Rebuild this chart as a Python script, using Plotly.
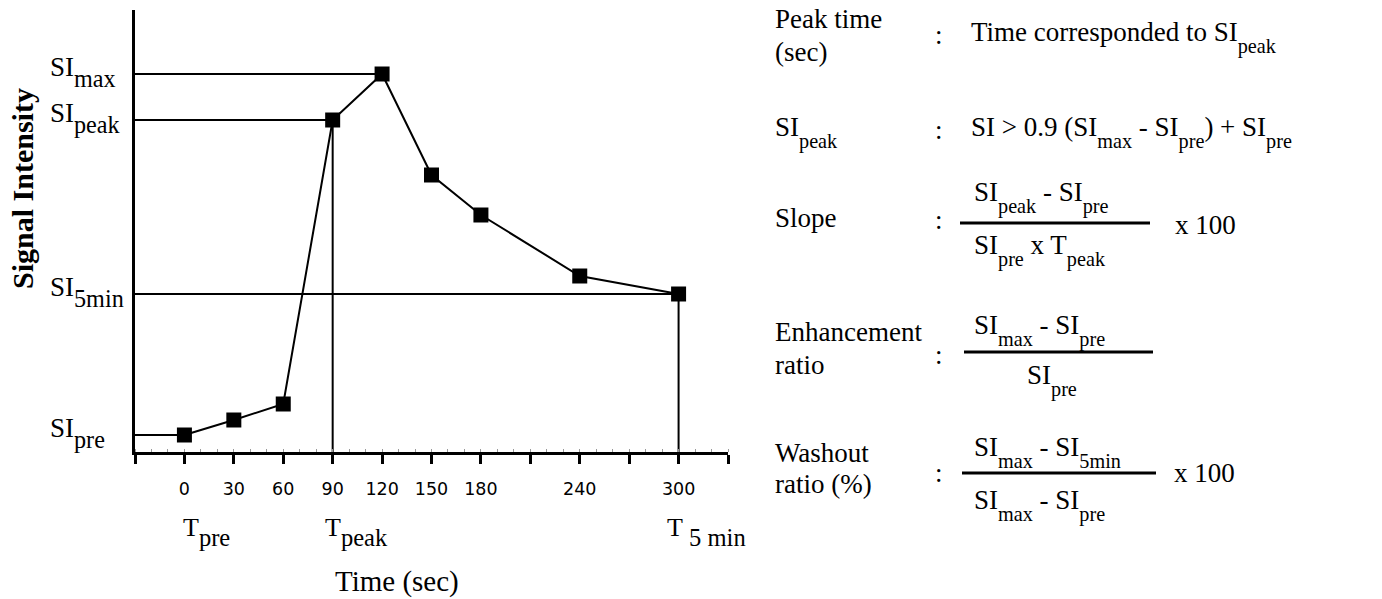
import plotly.graph_objects as go

# Dynamic contrast-enhancement time–signal curve (arbitrary intensity units)
time_sec = [0, 30, 60, 90, 120, 150, 180, 240, 300]
signal = [17, 32, 48, 332, 378, 277, 237, 176, 158]

x_ticks = [-30, 0, 30, 60, 90, 120, 150, 180, 210, 240, 270, 300, 330]
x_tick_labels = ["", "0", "30", "60", "90", "120", "150", "180", "", "240", "", "300", ""]

# Key points of the curve: (label, subscript, time index)
si_marks = [("SI", "max", 4), ("SI", "peak", 3), ("SI", "5min", 8), ("SI", "pre", 0)]
t_marks = [("T", "pre", 0), ("T", "peak", 3), ("T", " 5 min", 8)]

W, H = 1382, 599
L, R, T, B = 135, 728, 10, 452
X0, X1 = -30, 330
Y0, Y1 = 0, 442

SERIF = "Liberation Serif"
SANS = "DejaVu Sans"


def px(x):
    return (x - L) / (R - L)


def py(y):
    return (B - y) / (B - T)


def sub(s, pct=107, drop=6):
    # plotly renders <sub> at 70 % with a small drop; the inner span
    # rescales it and lowers it a little further
    return (f'<sub><span style="font-size:{pct}%;baseline-shift:-{drop}px">'
            f'{s}</span></sub>')


fig = go.Figure()

# Guide lines from the axes to the key points
for _, _, i in si_marks:
    fig.add_trace(go.Scatter(x=[X0, time_sec[i]], y=[signal[i], signal[i]], mode="lines",
                             line=dict(color="black", width=2), hoverinfo="skip"))
for _, _, i in t_marks[1:]:
    fig.add_trace(go.Scatter(x=[time_sec[i], time_sec[i]], y=[Y0, signal[i]], mode="lines",
                             line=dict(color="black", width=2), hoverinfo="skip"))

fig.add_trace(go.Scatter(x=time_sec, y=signal, mode="lines+markers",
                         line=dict(color="black", width=2),
                         marker=dict(symbol="square", size=15, color="black")))

ann = []
for main, s, i in si_marks:
    ann.append(dict(x=px(48), xref="paper", y=signal[i], yref="y", text=main + sub(s, 128, 5),
                    xanchor="left", yanchor="middle", yshift=2, showarrow=False,
                    font=dict(family=SERIF, size=27, color="black")))
t_shift = {0: -3, 3: -10, 8: -14}
for main, s, i in t_marks:
    ann.append(dict(x=time_sec[i], xref="x", y=py(532), yref="paper", text=main + sub(s, 135, 5),
                    xanchor="left", yanchor="middle", xshift=t_shift[i], showarrow=False,
                    font=dict(family=SERIF, size=26, color="black")))
ann.append(dict(x=px(333), xref="paper", y=py(581), yref="paper", text="Time (sec)",
                xanchor="left", yanchor="middle", showarrow=False,
                font=dict(family=SERIF, size=29, color="black")))
ann.append(dict(x=px(22), xref="paper", y=py(189), yref="paper", text="<b>Signal Intensity</b>",
                textangle=-90, xanchor="center", yanchor="middle", showarrow=False,
                font=dict(family=SERIF, size=30, color="black")))


def text(x, y, s, anchor="left", size=27):
    ann.append(dict(x=px(x), xref="paper", y=py(y), yref="paper", text=s,
                    xanchor=anchor, yanchor="middle", showarrow=False,
                    font=dict(family=SERIF, size=size, color="black")))


# Definitions panel
COL_LABEL, COL_COLON, COL_DEF = 773, 933, 969

text(COL_LABEL, 19, "Peak time")
text(COL_LABEL, 52, "(sec)")
text(COL_COLON, 35, ":")
text(COL_DEF, 37, "Time corresponded to SI" + sub("peak"))

text(COL_LABEL, 132, "SI" + sub("peak"))
text(COL_COLON, 130, ":")
text(COL_DEF, 132, "SI &gt; 0.9 (SI" + sub("max") + " - SI" + sub("pre") + ") + SI" + sub("pre"))

text(COL_LABEL, 218, "Slope")
text(COL_COLON, 220, ":")
text(972, 197, "SI" + sub("peak") + " - SI" + sub("pre"))
text(972, 250, "SI" + sub("pre") + " x T" + sub("peak"))
text(1173, 225, "x 100")

text(COL_LABEL, 332, "Enhancement")
text(COL_LABEL, 365, "ratio")
text(COL_COLON, 355, ":")
text(972, 330, "SI" + sub("max") + " - SI" + sub("pre"))
text(1052, 380, "SI" + sub("pre"), anchor="center")

text(COL_LABEL, 453, "Washout")
text(COL_LABEL, 484, "ratio (%)")
text(COL_COLON, 473, ":")
text(972, 452, "SI" + sub("max") + " - SI" + sub("5min"))
text(972, 505, "SI" + sub("max") + " - SI" + sub("pre"))
text(1172, 473, "x 100")

shapes = []
for xa, xb, y in [(960, 1150, 223), (964, 1153, 352), (962, 1156, 473)]:
    shapes.append(dict(type="line", xref="paper", yref="paper", x0=px(xa), x1=px(xb),
                       y0=py(y), y1=py(y), line=dict(color="black", width=3)))

fig.update_layout(
    width=W, height=H,
    margin=dict(l=L, r=W - R, t=T, b=H - B),
    paper_bgcolor="white", plot_bgcolor="white",
    showlegend=False,
    annotations=ann, shapes=shapes,
    xaxis=dict(range=[X0, X1], tickmode="array", tickvals=x_ticks, ticktext=x_tick_labels,
               ticks="outside", ticklen=9, tickwidth=2.5, tickcolor="black",
               ticklabelstandoff=10,
               showline=True, linecolor="black", linewidth=2.5, showgrid=False, zeroline=False,
               tickfont=dict(family=SANS, size=17.5, color="black"),
               minor=dict(ticks="inside", dtick=10, tick0=0, ticklen=3, tickwidth=1,
                          tickcolor="#999999")),
    yaxis=dict(range=[Y0, Y1], showline=True, linecolor="black", linewidth=2.5,
               showgrid=False, zeroline=False, showticklabels=False, ticks=""),
)

fig.write_html("out.html")
